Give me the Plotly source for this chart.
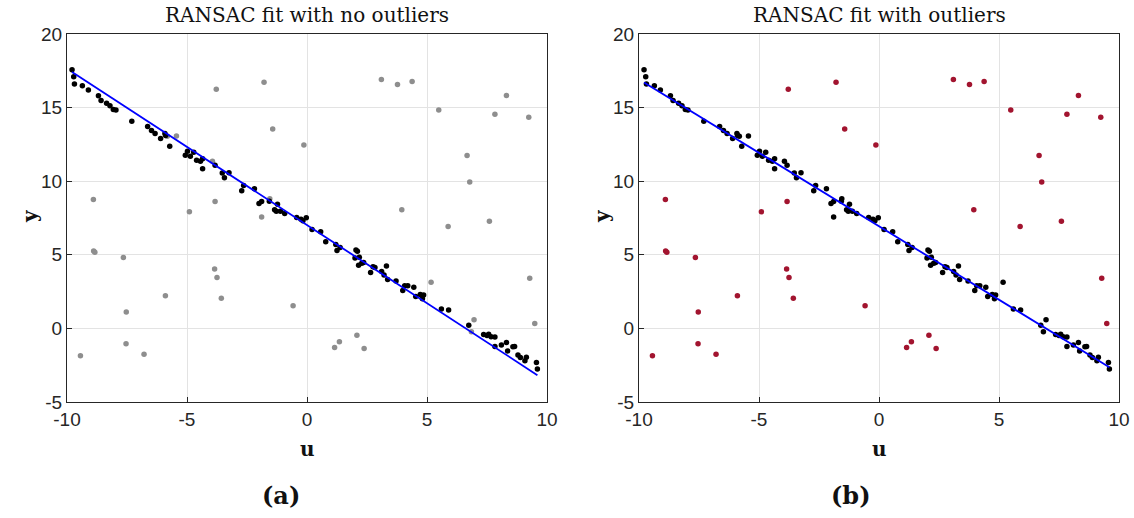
import plotly.graph_objects as go

# Points lying along the underlying linear trend
band_u = [-9.79, -9.72, -9.69, -9.36, -9.11, -8.69, -8.58, -8.35, -8.21, -8.07,
          -7.96, -7.30, -6.64, -6.48, -6.33, -6.10, -5.92, -5.89, -5.82, -5.72,
          -5.44, -5.07, -4.98, -4.72, -4.86, -4.60, -4.44, -4.35, -4.35, -3.94,
          -3.83, -3.53, -3.44, -3.25, -2.64, -2.72, -2.19, -2.00, -1.89, -1.55,
          -1.57, -1.23, -1.35, -1.28, -1.11, -0.93, -1.89, -0.43, -0.25, -0.17,
          -0.03, 0.21, 0.57, 0.78, 1.20, 1.25, 1.38, 2.04, 2.10, 2.00,
          2.18, 2.15, 2.28, 2.36, 2.65, 2.75, 2.83, 3.11, 3.21, 3.31,
          3.36, 3.71, 3.99, 4.07, 4.20, 4.45, 4.53, 4.72, 4.81, 4.86,
          5.17, 5.60, 5.90, 6.74, 6.96, 6.85, 7.36, 7.50, 7.57, 7.67,
          7.83, 7.83, 8.10, 8.31, 8.36, 8.58, 8.65, 8.79, 8.89, 9.08,
          9.14, 9.56, 9.60]
band_y = [17.57, 17.09, 16.61, 16.48, 16.19, 15.80, 15.48, 15.30, 15.12, 14.87,
          14.84, 14.07, 13.71, 13.44, 13.24, 12.90, 13.24, 13.10, 13.05, 12.37,
          13.07, 11.76, 12.03, 11.96, 11.69, 11.42, 11.35, 11.53, 10.85, 11.35,
          11.08, 10.55, 10.24, 10.58, 9.71, 9.35, 9.49, 8.49, 8.62, 8.81,
          8.64, 8.44, 8.06, 7.96, 7.96, 7.81, 7.56, 7.53, 7.42, 7.31,
          7.51, 6.72, 6.56, 5.88, 5.70, 5.29, 5.49, 5.33, 5.24, 4.79,
          4.83, 4.29, 4.42, 4.47, 3.79, 4.18, 4.13, 3.86, 3.63, 4.24,
          3.33, 3.22, 2.58, 2.90, 2.90, 2.79, 2.17, 2.31, 2.02, 2.27,
          3.13, 1.31, 1.25, 0.22, 0.59, -0.23, -0.42, -0.48, -0.39, -0.57,
          -0.59, -1.23, -1.12, -0.96, -1.53, -1.25, -1.23, -1.80, -1.98, -2.19,
          -1.96, -2.32, -2.75]

# Scattered gross outliers
scatter_u = [-3.78, -1.79, -1.43, -8.90, -3.83, -4.90, 3.10, 3.77, 4.38, 5.49,
             8.31, 7.83, 9.24, -0.13, 6.67, 6.78, 3.95, 7.60, -8.89, -8.84,
             -7.65, -3.85, -3.75, -3.57, -5.90, -7.53, -0.58, -7.54, -9.44, -6.79,
             5.88, 9.28, 9.49, 2.08, 1.35, 1.15, 2.38]
scatter_y = [16.25, 16.73, 13.55, 8.76, 8.62, 7.92, 16.91, 16.57, 16.78, 14.84,
             15.82, 14.55, 14.35, 12.46, 11.74, 9.94, 8.06, 7.28, 5.25, 5.18,
             4.81, 4.04, 3.45, 2.04, 2.22, 1.11, 1.54, -1.05, -1.85, -1.75,
             6.92, 3.40, 0.33, -0.46, -0.91, -1.30, -1.37]

# Band points that the first fit leaves out of its consensus set
left_rejected_idx = [18, 20, 29, 39, 46, 80, 84, 85]

# Fitted lines (slope, intercept)
fit_left = (-1.062, 7.02)
fit_right = (-0.998, 6.94)

titles = ["RANSAC fit with no outliers", "RANSAC fit with outliers"]
captions = ["(a)", "(b)"]
x_ticks = [-10, -5, 0, 5, 10]
y_ticks = [-5, 0, 5, 10, 15, 20]

W, H = 1134, 518
ML, MR, MT, MB = 67, 15, 34, 116
PW, PH = W - ML - MR, H - MT - MB

BLACK = "#000000"
GRAY = "#8e8e8e"
RED = "#a2142f"
BLUE = "#0000ff"
AXC = "#262626"


def px_x(p):
    return (p - ML) / PW


def px_y(p):
    return (H - MB - p) / PH


def line_xy(fit):
    lo, hi = min(band_u), max(band_u)
    return [lo, hi], [fit[0] * lo + fit[1], fit[0] * hi + fit[1]]


fig = go.Figure()

# ---- panel (a)
in_u = [u for i, u in enumerate(band_u) if i not in left_rejected_idx]
in_y = [y for i, y in enumerate(band_y) if i not in left_rejected_idx]
out_u = scatter_u + [band_u[i] for i in left_rejected_idx]
out_y = scatter_y + [band_y[i] for i in left_rejected_idx]
fig.add_trace(go.Scatter(x=out_u, y=out_y, mode="markers", xaxis="x", yaxis="y",
                         marker=dict(color=GRAY, size=5.5), showlegend=False))
fig.add_trace(go.Scatter(x=in_u, y=in_y, mode="markers", xaxis="x", yaxis="y",
                         marker=dict(color=BLACK, size=5.5), showlegend=False))
lx, ly = line_xy(fit_left)
fig.add_trace(go.Scatter(x=lx, y=ly, mode="lines", xaxis="x", yaxis="y",
                         line=dict(color=BLUE, width=1.8), showlegend=False))

# ---- panel (b)
fig.add_trace(go.Scatter(x=scatter_u, y=scatter_y, mode="markers", xaxis="x2", yaxis="y2",
                         marker=dict(color=RED, size=5.5), showlegend=False))
fig.add_trace(go.Scatter(x=band_u, y=band_y, mode="markers", xaxis="x2", yaxis="y2",
                         marker=dict(color=BLACK, size=5.5), showlegend=False))
lx, ly = line_xy(fit_right)
fig.add_trace(go.Scatter(x=lx, y=ly, mode="lines", xaxis="x2", yaxis="y2",
                         line=dict(color=BLUE, width=1.8), showlegend=False))

tick_font = dict(family="Liberation Sans, Arial, sans-serif", size=19, color=AXC)
axis_common = dict(showline=True, linecolor=AXC, linewidth=1, mirror=True,
                   ticks="inside", ticklen=5, tickcolor=AXC, tickwidth=1,
                   showgrid=True, gridcolor="#e3e3e3", gridwidth=1,
                   zeroline=False, tickfont=tick_font, automargin=False)
xt = dict(tickvals=x_ticks, ticktext=[str(v) for v in x_ticks])
yt = dict(tickvals=y_ticks, ticktext=[str(v) for v in y_ticks])

fig.update_layout(
    width=W, height=H, margin=dict(l=ML, r=MR, t=MT, b=MB, autoexpand=False),
    plot_bgcolor="white", paper_bgcolor="white",
    xaxis=dict(domain=[0, px_x(547)], range=[-10, 10], anchor="y", **xt, **axis_common),
    yaxis=dict(domain=[0, 1], range=[-5, 20], anchor="x", **yt, **axis_common),
    xaxis2=dict(domain=[px_x(639), 1], range=[-10, 10], anchor="y2", **xt, **axis_common),
    yaxis2=dict(domain=[0, 1], range=[-5, 20], anchor="x2", **yt, **axis_common),
)

serif = "DejaVu Serif, Liberation Serif, serif"
centers = [307, 879]
ylab_x = [30, 602]
cap_x = [281, 851]
for k in range(2):
    cx = centers[k]
    common = dict(xref="paper", yref="paper", showarrow=False,
                  xanchor="center", yanchor="middle")
    fig.add_annotation(text=titles[k], x=px_x(cx), y=px_y(15),
                       font=dict(family=serif, size=20, color="#111"), **common)
    fig.add_annotation(text="<b>u</b>", x=px_x(cx), y=px_y(449),
                       font=dict(family=serif, size=20, color="#111"), **common)
    fig.add_annotation(text="<b>y</b>", x=px_x(ylab_x[k]), y=px_y(216), textangle=-90,
                       font=dict(family=serif, size=20, color="#111"), **common)
    fig.add_annotation(text="<b>" + captions[k] + "</b>", x=px_x(cap_x[k]), y=px_y(495),
                       font=dict(family=serif, size=24, color="#111"), **common)

fig.write_html("out.html")
